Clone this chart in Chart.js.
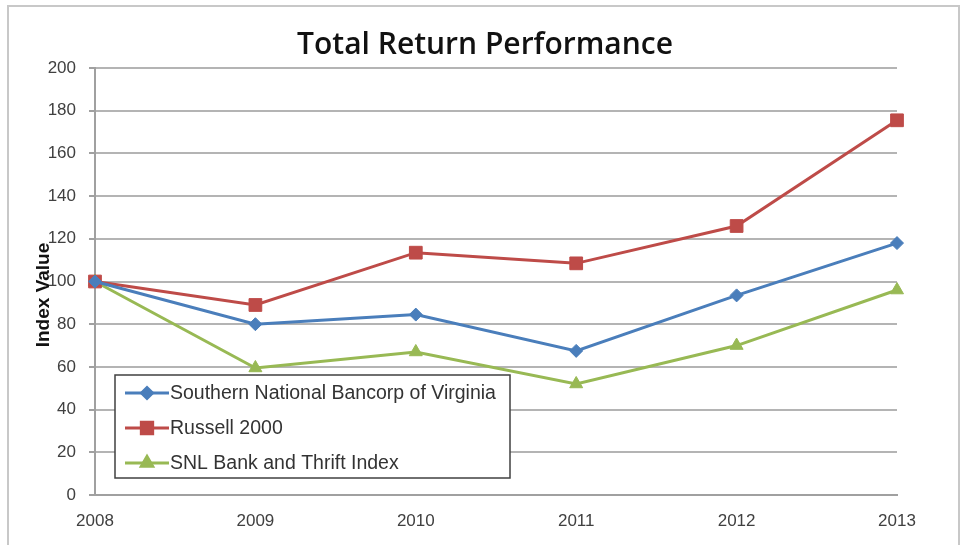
<!DOCTYPE html>
<html>
<head>
<meta charset="utf-8">
<script src="https://cdn.jsdelivr.net/npm/chart.js@4"></script>
<style>
  html, body { margin: 0; padding: 0; background: #fff; }
  canvas { display: block; }
</style>
</head>
<body>
<canvas id="chart" width="960" height="545"></canvas>
<script>
const YEARS = ['2008', '2009', '2010', '2011', '2012', '2013'];
const SOUTHERN = [100, 80, 84.5, 67.5, 93.5, 118];
const RUSSELL = [100, 89, 113.5, 108.5, 126, 175.5];
const SNL = [100, 59.5, 67, 52, 70, 96];
const SERIES_NAMES = ['Southern National Bancorp of Virginia', 'Russell 2000', 'SNL Bank and Thrift Index'];
const SERIES_COLORS = ['#4a7ebb', '#be4b48', '#98b954'];
const MARKERS = ['rectRot', 'rect', 'triangle'];
const MARKER_SIZES = [6.5, 9, 7.5];

// Frame, title, rotated axis title and boxed legend, Excel-style.
const decorations = {
    id: 'decorations',
    beforeDraw(chart) {
        const ctx = chart.ctx;
        ctx.save();
        ctx.strokeStyle = '#c8c8c8';
        ctx.lineWidth = 2;
        ctx.strokeRect(8, 6, 951, 560);
        ctx.restore();
    },
    afterDraw(chart) {
        const ctx = chart.ctx;
        const area = chart.chartArea;
        ctx.save();
        ctx.fillStyle = '#111';
        ctx.font = '600 30px "Open Sans"';
        ctx.textAlign = 'center';
        ctx.textBaseline = 'alphabetic';
        ctx.fillText('Total Return Performance', 485, 54);

        ctx.translate(44, 295);
        ctx.rotate(-Math.PI / 2);
        ctx.textBaseline = 'middle';
        ctx.font = 'bold 19px "Liberation Sans"';
        ctx.fillText('Index Value', 0, 0);
        ctx.restore();

        // legend box
        const bx = area.left + 20, by = 375, bw = 395, bh = 103;
        ctx.save();
        ctx.fillStyle = '#fff';
        ctx.fillRect(bx, by, bw, bh);
        ctx.strokeStyle = '#404040';
        ctx.lineWidth = 1.5;
        ctx.strokeRect(bx, by, bw, bh);
        chart.data.datasets.forEach((ds, i) => {
            const y = by + 18 + i * 35;
            ctx.strokeStyle = ds.borderColor;
            ctx.lineWidth = 3;
            ctx.beginPath();
            ctx.moveTo(bx + 10, y);
            ctx.lineTo(bx + 54, y);
            ctx.stroke();
            ctx.fillStyle = ds.borderColor;
            ctx.strokeStyle = ds.borderColor;
            Chart.helpers.drawPoint(ctx, {
                pointStyle: ds.pointStyle, radius: ds.pointRadius - 1, rotation: 0, borderWidth: 1
            }, bx + 32, y);
            ctx.fillStyle = '#333';
            ctx.font = '19.5px "Liberation Sans"';
            ctx.textAlign = 'left';
            ctx.textBaseline = 'middle';
            ctx.fillText(ds.label, bx + 55, y + 1);
        });
        ctx.restore();
    }
};

const seriesData = [SOUTHERN, RUSSELL, SNL];
const datasets = seriesData.map((data, i) => ({
    label: SERIES_NAMES[i],
    data,
    borderColor: SERIES_COLORS[i],
    backgroundColor: SERIES_COLORS[i],
    borderWidth: 3,
    pointStyle: MARKERS[i],
    pointRadius: MARKER_SIZES[i],
    pointHoverRadius: MARKER_SIZES[i],
    pointBorderWidth: 1,
    tension: 0,
}));

new Chart(document.getElementById('chart'), {
    type: 'line',
    data: { labels: YEARS, datasets },
    options: {
        responsive: false,
        animation: false,
        layout: { padding: { left: 0, top: 68, right: 63, bottom: 0 } },
        plugins: { legend: { display: false }, title: { display: false }, tooltip: { enabled: false } },
        scales: {
            x: {
                offset: false,
                grid: { display: false, drawOnChartArea: false, drawTicks: true, tickLength: 6, tickColor: '#a0a0a0' },
                border: { color: '#a0a0a0', width: 2 },
                ticks: { color: '#404040', font: { family: 'Liberation Sans', size: 17 }, padding: 10, maxRotation: 0 },
                afterFit: s => { s.height = 50; },
            },
            y: {
                min: 0, max: 200,
                grid: { color: '#b4b4b4', lineWidth: 2, tickLength: 6, tickColor: '#a0a0a0' },
                border: { color: '#a0a0a0', width: 2 },
                ticks: { stepSize: 20, color: '#404040', font: { family: 'Liberation Sans', size: 17 }, padding: 13 },
                afterFit: s => { s.width = 95; },
            },
        },
    },
    plugins: [decorations],
});
</script>
</body>
</html>
